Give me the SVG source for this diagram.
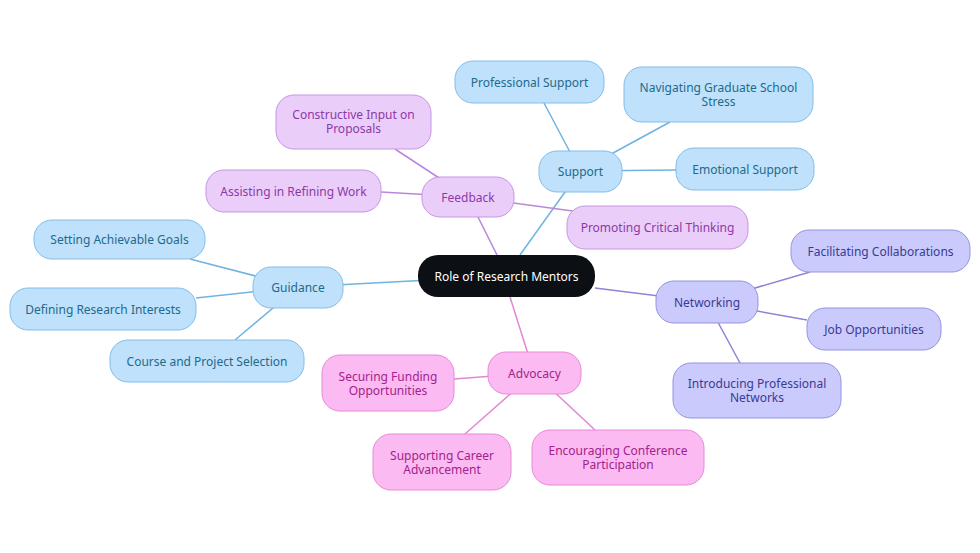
<svg xmlns="http://www.w3.org/2000/svg" width="980" height="553" viewBox="0 0 980 553">
<style>
text{font-family:"Noto Sans","Liberation Sans",sans-serif;font-size:12px;text-anchor:middle;dominant-baseline:central}
.b rect{fill:#bfe1fb;stroke:#82bde9}.b text{fill:#1e6a8c}
.p rect{fill:#ebcdf9;stroke:#c596e2}.p text{fill:#8a3aa8}
.n rect{fill:#cacbfc;stroke:#9593e0}.n text{fill:#3a3a94}
.k rect{fill:#fbbaf1;stroke:#e58ad8}.k text{fill:#a2238c}
.eb{stroke:#6fb3e2}.ep{stroke:#b987da}.en{stroke:#8c84d8}.ek{stroke:#e188d2}
#edges line{stroke-width:1.5}
</style>
<rect width="980" height="553" fill="#fff"/>
<g id="edges">
<line class="eb" x1="505" y1="276" x2="298" y2="287"/>
<line class="eb" x1="298" y1="287" x2="190" y2="259"/>
<line class="eb" x1="298" y1="287" x2="196" y2="298"/>
<line class="eb" x1="298" y1="287" x2="235" y2="340"/>
<line class="eb" x1="520" y1="255" x2="580" y2="171"/>
<line class="eb" x1="580" y1="171" x2="544" y2="103"/>
<line class="eb" x1="580" y1="171" x2="670" y2="122"/>
<line class="eb" x1="580" y1="171" x2="676" y2="170"/>
<line class="ep" x1="497" y1="255" x2="468" y2="197"/>
<line class="ep" x1="468" y1="197" x2="395" y2="149"/>
<line class="ep" x1="468" y1="197" x2="381" y2="192"/>
<line class="ep" x1="468" y1="197" x2="580" y2="212"/>
<line class="en" x1="595" y1="288" x2="707" y2="302"/>
<line class="en" x1="707" y1="302" x2="810" y2="272"/>
<line class="en" x1="707" y1="302" x2="807" y2="320"/>
<line class="en" x1="707" y1="302" x2="740" y2="363"/>
<line class="ek" x1="510" y1="297" x2="534" y2="373"/>
<line class="ek" x1="534" y1="373" x2="454" y2="379"/>
<line class="ek" x1="534" y1="373" x2="465" y2="434"/>
<line class="ek" x1="534" y1="373" x2="595" y2="430"/>
</g>
<g id="center"><rect x="418" y="255" width="177" height="42" rx="20" fill="#0c0f14"/><text x="506.5" y="276" fill="#fff">Role of Research Mentors</text></g>
<g id="guidance" class="b"><rect x="253" y="267" width="90" height="41" rx="18"/><text x="298" y="287.5">Guidance</text></g>
<g id="goals" class="b"><rect x="34" y="220" width="171" height="39" rx="18"/><text x="119.5" y="239.5">Setting Achievable Goals</text></g>
<g id="interests" class="b"><rect x="10" y="288" width="186" height="42" rx="18"/><text x="103" y="309">Defining Research Interests</text></g>
<g id="course" class="b"><rect x="110" y="340" width="194" height="42" rx="18"/><text x="207" y="361">Course and Project Selection</text></g>
<g id="support" class="b"><rect x="539" y="151" width="83" height="41" rx="18"/><text x="580.5" y="171.5">Support</text></g>
<g id="prof" class="b"><rect x="455" y="61" width="149" height="42" rx="18"/><text x="529.5" y="82">Professional Support</text></g>
<g id="stress" class="b"><rect x="624" y="67" width="189" height="55" rx="18"/><text x="718.5" y="87.5">Navigating Graduate School</text><text x="718.5" y="101.5">Stress</text></g>
<g id="emotional" class="b"><rect x="676" y="148" width="138" height="42" rx="18"/><text x="745" y="169">Emotional Support</text></g>
<g id="feedback" class="p"><rect x="422" y="177" width="92" height="40" rx="18"/><text x="468" y="197">Feedback</text></g>
<g id="constructive" class="p"><rect x="276" y="95" width="155" height="54" rx="18"/><text x="353.5" y="114.5">Constructive Input on</text><text x="353.5" y="128.5">Proposals</text></g>
<g id="refining" class="p"><rect x="206" y="170" width="175" height="42" rx="18"/><text x="293.5" y="191">Assisting in Refining Work</text></g>
<g id="critical" class="p"><rect x="567" y="206" width="181" height="43" rx="18"/><text x="657.5" y="227.5">Promoting Critical Thinking</text></g>
<g id="networking" class="n"><rect x="656" y="281" width="102" height="42" rx="18"/><text x="707" y="302">Networking</text></g>
<g id="collab" class="n"><rect x="791" y="230" width="179" height="42" rx="18"/><text x="880.5" y="251">Facilitating Collaborations</text></g>
<g id="jobs" class="n"><rect x="807" y="308" width="134" height="42" rx="18"/><text x="874" y="329">Job Opportunities</text></g>
<g id="introducing" class="n"><rect x="673" y="363" width="168" height="55" rx="18"/><text x="757" y="383.5">Introducing Professional</text><text x="757" y="397.5">Networks</text></g>
<g id="advocacy" class="k"><rect x="488" y="352" width="93" height="42" rx="18"/><text x="534.5" y="373">Advocacy</text></g>
<g id="funding" class="k"><rect x="322" y="355" width="132" height="56" rx="18"/><text x="388" y="376">Securing Funding</text><text x="388" y="390">Opportunities</text></g>
<g id="career" class="k"><rect x="373" y="434" width="138" height="56" rx="18"/><text x="442" y="455">Supporting Career</text><text x="442" y="469">Advancement</text></g>
<g id="conference" class="k"><rect x="532" y="430" width="172" height="55" rx="18"/><text x="618" y="450.5">Encouraging Conference</text><text x="618" y="464.5">Participation</text></g>
</svg>
